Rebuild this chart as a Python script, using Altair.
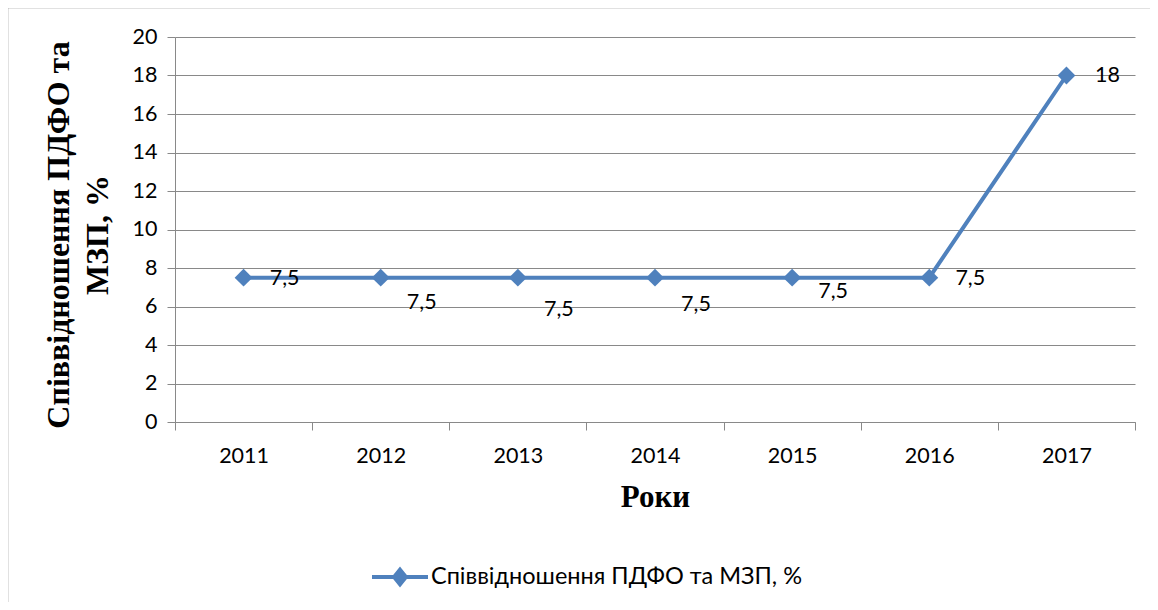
import altair as alt
import pandas as pd

years = ["2011", "2012", "2013", "2014", "2015", "2016", "2017"]
values = [7.5, 7.5, 7.5, 7.5, 7.5, 7.5, 18]
label_y = [7.45, 6.2, 5.8, 6.1, 6.75, 7.45, 17.95]
series_name = "Співвідношення ПДФО та МЗП, %"
y_ticks = [0, 2, 4, 6, 8, 10, 12, 14, 16, 18, 20]

BLUE = "#4F81BD"
GRID = "#898989"
SANS = "Lato"
SERIF = "Liberation Serif"

df = pd.DataFrame({
    "year": years,
    "value": values,
    "label_y": label_y,
    "label": [f"{v:g}".replace(".", ",") for v in values],
    "series": [series_name] * len(years),
})

W, H = 960, 385

x_axis = alt.Axis(
    title="Роки", tickBand="extent", labelAngle=0,
    labelFont=SANS, labelFontSize=21.5, labelColor="black",
    labelPadding=15, tickSize=8, tickColor=GRID, domainColor=GRID,
    titleFont=SERIF, titleFontSize=31, titleFontWeight="bold",
    titleColor="black", titlePadding=16, grid=False,
)
x_scale = alt.Scale(paddingInner=0, paddingOuter=0)
y_axis = alt.Axis(
    title=["Співвідношення ПДФО та", "МЗП, %"], values=y_ticks, tickCount=11,
    labelFont=SANS, labelFontSize=21.5, labelColor="black",
    labelOverlap=False, labelFlush=False,
    labelPadding=10, tickSize=8, tickColor=GRID, domainColor=GRID,
    grid=True, gridColor=GRID, gridWidth=1.2,
    titleFont=SERIF, titleFontSize=32, titleFontWeight="bold",
    titleColor="black", titlePadding=18, titleLineHeight=39,
    titleY=H / 2 + 5,
)
y_scale = alt.Scale(domain=[0, 20], nice=False, zero=True)
color_scale = alt.Scale(domain=[series_name], range=[BLUE])

color_enc = alt.Color(
    "series:N",
    scale=color_scale,
    legend=alt.Legend(
        title=None, orient="none", legendX=195, legendY=510,
        symbolType="M-1,0L1,0M0,-0.26L0.21,0L0,0.26L-0.21,0Z",
        symbolSize=3136, symbolStrokeWidth=4,
        symbolFillColor=BLUE, symbolStrokeColor=BLUE,
        labelFont=SANS, labelFontSize=23.5, labelColor="black",
        labelOffset=1, labelLimit=0, padding=0,
    ),
)

base = alt.Chart(df)

line = base.mark_line(strokeWidth=4).encode(
    x=alt.X("year:N", scale=x_scale, axis=x_axis),
    y=alt.Y("value:Q", scale=y_scale, axis=y_axis),
    color=color_enc,
)
points = base.mark_point(shape="diamond", filled=True, size=320, opacity=1).encode(
    x=alt.X("year:N", scale=x_scale, axis=x_axis),
    y=alt.Y("value:Q", scale=y_scale, axis=y_axis),
    color=alt.Color("series:N", legend=None, scale=color_scale),
)
labels = base.mark_text(dx=41, baseline="middle", align="center",
                        font=SANS, fontSize=21.5, color="black").encode(
    x=alt.X("year:N", scale=x_scale, axis=x_axis),
    y=alt.Y("label_y:Q", scale=y_scale, axis=y_axis),
    text="label:N",
)

frame = alt.Chart(pd.DataFrame({"k": [0]})).mark_rect(
    fill=None, stroke=GRID, strokeWidth=1.5
).encode(
    x=alt.value(-167.5), x2=alt.value(W + 100),
    y=alt.value(-29.5), y2=alt.value(H + 300),
)

chart = alt.layer(frame, line, points, labels).properties(
    width=W, height=H,
    autosize=alt.AutoSizeParams(type="none"),
    padding={"left": 167, "top": 29, "right": 15, "bottom": 180},
).configure_view(stroke=None).configure_axis(labelColor="black")

chart.save("out.html", embed_options={"renderer": "svg", "actions": False})
